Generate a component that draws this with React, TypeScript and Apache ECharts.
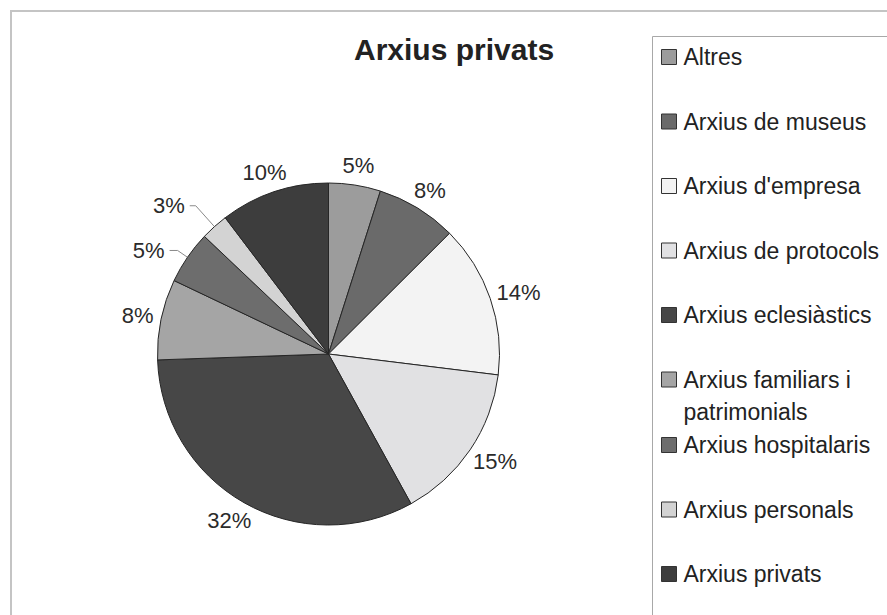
import React, { useEffect, useRef } from "react";
import * as echarts from "echarts";

// ---- data ----
const categories = [
  "Altres",
  "Arxius de museus",
  "Arxius d'empresa",
  "Arxius de protocols",
  "Arxius eclesiàstics",
  "Arxius familiars i patrimonials",
  "Arxius hospitalaris",
  "Arxius personals",
  "Arxius privats",
];
const shares = [4.9, 7.6, 14.4, 15.0, 32.4, 7.6, 5.0, 2.6, 10.3];
const chartTitle = "Arxius privats";

// ---- styles ----
const sliceColors = [
  "#9c9c9c",
  "#6a6a6a",
  "#f3f3f3",
  "#e1e1e3",
  "#474747",
  "#a5a5a5",
  "#6d6d6d",
  "#d3d3d3",
  "#3d3d3d",
];
const leaderLines: Record<string, { length: number; length2: number }> = {
  "Arxius hospitalaris": { length: 12, length2: 8 },
  "Arxius personals": { length: 28, length2: 6 },
};
const FONT = "'Liberation Sans', Arial, Helvetica, sans-serif";
const CENTER: [number, number] = [328.5, 354];
const RADIUS = 171;
const LABEL_GAP = 8;

export default function App() {
  const ref = useRef<HTMLDivElement>(null);

  useEffect(() => {
    if (!ref.current) return;
    const chart = echarts.init(ref.current, undefined, { renderer: "svg" });
    const total = shares.reduce((a, b) => a + b, 0);

    const legendBase: any = {
      orient: "vertical",
      left: 661,
      icon: "rect",
      itemWidth: 15,
      itemHeight: 15,
      itemGap: 32.5,
      padding: 0,
      selectedMode: false,
      itemStyle: { borderColor: "#333", borderWidth: 1 },
      textStyle: {
        fontSize: 23,
        lineHeight: 32,
        color: "#222",
        fontFamily: FONT,
        padding: [0, 0, 0, 2],
      },
    };

    const option: any = {
      animation: false,
      backgroundColor: "#ffffff",
      color: sliceColors,
      title: {
        text: chartTitle,
        left: 354,
        top: 34,
        padding: 0,
        textStyle: { fontSize: 30, fontWeight: "bold", color: "#222", fontFamily: FONT },
      },
      graphic: [
        {
          type: "rect",
          silent: true,
          z: -10,
          shape: { x: 11, y: 11, width: 1000, height: 1000 },
          style: { fill: "none", stroke: "#c4c4c4", lineWidth: 2 },
        },
        {
          type: "rect",
          silent: true,
          z: -10,
          shape: { x: 652.5, y: 36.5, width: 500, height: 800 },
          style: { fill: "none", stroke: "#a8a8a8", lineWidth: 1 },
        },
      ],
      legend: [
        { ...legendBase, top: 41, data: categories.slice(0, 5) },
        {
          ...legendBase,
          top: 331.5,
          data: categories.slice(5, 6),
          formatter: (n: string) => "\n" + n,
          textStyle: { ...legendBase.textStyle, width: 200, overflow: "break" },
        },
        { ...legendBase, top: 429, data: categories.slice(6) },
      ],
      series: [
        {
          type: "pie",
          center: CENTER,
          radius: RADIUS,
          startAngle: 90,
          clockwise: true,
          avoidLabelOverlap: false,
          itemStyle: { borderColor: "#262626", borderWidth: 1 },
          emphasis: { disabled: true },
          label: {
            show: true,
            position: "outside",
            formatter: (p: any) => Math.round(p.value) + "%",
            fontSize: 22,
            lineHeight: 24,
            color: "#2b2b2b",
            fontFamily: FONT,
            distanceToLabelLine: 5,
          },
          labelLine: { show: false },
          labelLayout: (params: any) => {
            const i = params.dataIndex;
            const name = categories[i];
            if (leaderLines[name]) return {};
            let before = 0;
            for (let j = 0; j < i; j++) before += shares[j];
            const mid = ((before + shares[i] / 2) / total) * Math.PI * 2;
            const dx = Math.sin(mid);
            const dy = -Math.cos(mid);
            const w = params.labelRect.width;
            const h = params.labelRect.height;
            return {
              x: CENTER[0] + dx * (RADIUS + LABEL_GAP) + (dx * w) / 2,
              y: CENTER[1] + dy * (RADIUS + LABEL_GAP) + (dy * h) / 2,
              align: "center",
              verticalAlign: "middle",
            };
          },
          data: categories.map((name, i) => {
            const item: any = { name, value: shares[i] };
            if (leaderLines[name]) {
              item.labelLine = {
                show: true,
                length: leaderLines[name].length,
                length2: leaderLines[name].length2,
                lineStyle: { color: "#8a8a8a", width: 1 },
              };
            }
            return item;
          }),
        },
      ],
    };

    chart.setOption(option);
    return () => chart.dispose();
  }, []);

  return (
    <div
      ref={ref}
      style={{ position: "fixed", left: 0, top: 0, width: 887, height: 615, background: "#fff" }}
    />
  );
}
